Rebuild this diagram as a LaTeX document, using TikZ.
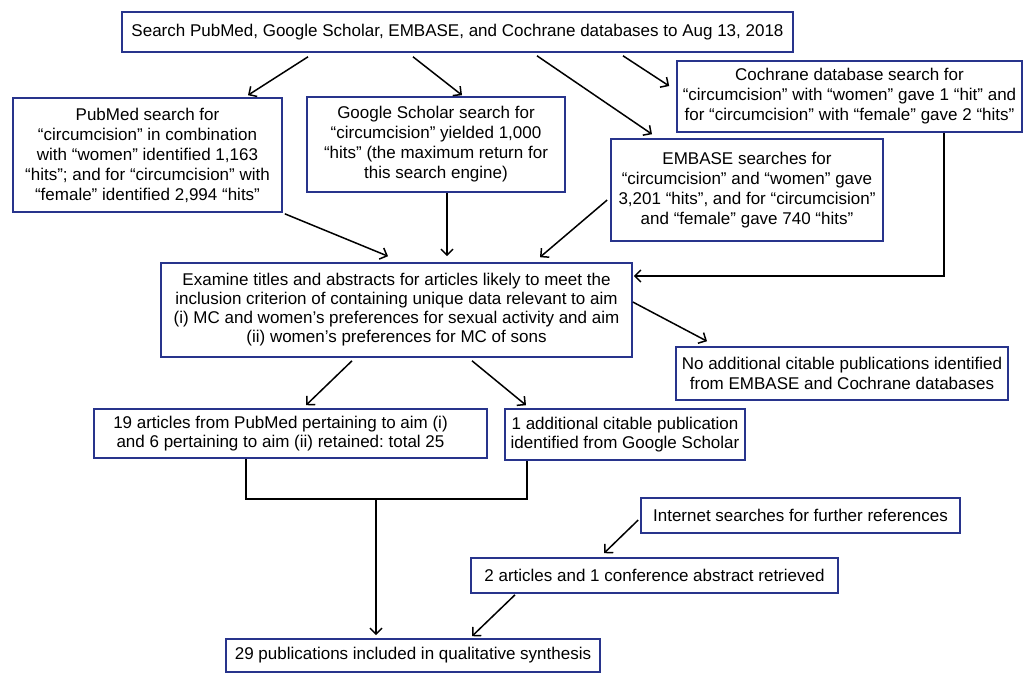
\documentclass[tikz,border=0pt]{standalone}
\usepackage{fontspec}
\setmainfont{Liberation Sans}
\usetikzlibrary{calc,arrows.meta}
\definecolor{navy}{RGB}{40,52,140}
\frenchspacing
\tikzset{
  box/.style={draw=navy, line width=1.6pt, fill=white, inner sep=0pt, align=center,
    font=\fontsize{17}{20}\selectfont},
  arr/.style={draw=black, line width=1.5pt, -{Straight Barb[length=6pt,width=12pt,line width=1.5pt]}},
  ln/.style={draw=black, line width=1.5pt}
}
\begin{document}
\begin{tikzpicture}[x=1pt,y=-1pt]
\useasboundingbox (0,0) rectangle (1025,673);
\fill[white] (0,0) rectangle (1025,673);

\node[box, minimum width=671pt, minimum height=40pt] (top) at (457.5,32)
  {Search PubMed, Google Scholar, EMBASE, and Cochrane databases to Aug 13, 2018};
\node[box, minimum width=269pt, minimum height=114pt] (pub) at (147.5,155)
  {PubMed search for\\“circumcision” in combination\\with “women” identified 1,163\\“hits”; and for “circumcision” with\\“female” identified 2,994 “hits”};
\node[box, minimum width=258pt, minimum height=95pt] (gs) at (436,144.5)
  {Google Scholar search for\\“circumcision” yielded 1,000\\“hits” (the maximum return for\\this search engine)};
\node[box, minimum width=345pt, minimum height=71pt] (coch) at (849.5,96.5)
  {Cochrane database search for\\“circumcision” with “women” gave 1 “hit” and\\for “circumcision” with “female” gave 2 “hits”};
\node[box, minimum width=272pt, minimum height=102pt] (emb) at (747,190)
  {EMBASE searches for\\“circumcision” and “women” gave\\3,201 “hits”, and for “circumcision”\\and “female” gave 740 “hits”};
\node[box, minimum width=471pt, minimum height=94pt, font=\fontsize{17}{19}\selectfont] (exam) at (396.5,310)
  {Examine titles and abstracts for articles likely to meet the\\inclusion criterion of containing unique data relevant to aim\\(i) MC and women’s preferences for sexual activity and aim\\(ii) women’s preferences for MC of sons};
\node[box, minimum width=332pt, minimum height=53pt] (noadd) at (842,373.5)
  {No additional citable publications identified\\from EMBASE and Cochrane databases};
\node[box, minimum width=393pt, minimum height=49pt, font=\fontsize{17}{18.5}\selectfont] (b19) at (290.5,433.5)
  {19 articles from PubMed pertaining to aim (i)\hspace*{20pt}\\and 6 pertaining to aim (ii) retained: total 25\hspace*{20pt}};
\node[box, minimum width=240pt, minimum height=51pt, font=\fontsize{17}{18.5}\selectfont] (b1) at (625,434.5)
  {1 additional citable publication\\identified from Google Scholar};
\node[box, minimum width=319pt, minimum height=35pt] (inet) at (800.5,515.5)
  {Internet searches for further references};
\node[box, minimum width=367pt, minimum height=35pt] (b2) at (654.5,575.5)
  {2 articles and 1 conference abstract retrieved};
\node[box, minimum width=374pt, minimum height=33pt] (b29) at (413,655.5)
  {29 publications included in qualitative synthesis};

% arrows from the top box
\draw[arr] ($(top.south)+(-149.5,4)$) -- ($(pub.north)+(100.5,-2)$);
\draw[arr] ($(top.south)+(-44.5,4)$) -- ($(gs.north)+(26,-1)$);
\draw[arr] ($(top.south)+(79.5,3)$) -- ($(emb.north)+(-95,-4)$);
\draw[arr] ($(top.south)+(165.5,3)$) -- ($(coch.west)+(-7,-10.5)$);

% arrows into the examine box
\draw[arr] ($(pub.south east)+(2,1)$) -- ($(exam.north)+(-8.5,-6)$);
\draw[arr] ($(gs.south)+(11,0)$) -- ($(exam.north)+(50.5,-6)$);
\draw[arr] ($(emb.west)+(-3,10)$) -- ($(exam.north)+(143.5,-5)$);
\draw[arr] ($(coch.south)+(94.5,0)$) |- ($(exam.east)+(1,-34)$);

% arrows out of the examine box
\draw[arr] ($(exam.east)+(0,-8)$) -- ($(noadd.north)+(-135,-5)$);
\draw[arr] ($(exam.south)+(-44.5,3)$) -- ($(b19.north)+(15.5,-3)$);
\draw[arr] ($(exam.south)+(75.5,3)$) -- ($(b1.north)+(-99,-3)$);

% bracket joining the two boxes
\draw[ln] ($(b19.south)+(-44.5,0)$) -- ++(0,40) -| ($(b1.south)+(-98,0)$);
\coordinate (brk) at ($(b19.south)+(85.5,40)$);
\draw[arr, shorten >=3pt] (brk) -- (brk |- b29.north);

% internet searches
\draw[arr] ($(inet.west)+(-2,4.5)$) -- ($(b2.north)+(-50.5,-4)$);
\draw[arr] ($(b2.south)+(-139.5,1)$) -- ($(b29.north)+(59,-2)$);
\end{tikzpicture}
\end{document}
